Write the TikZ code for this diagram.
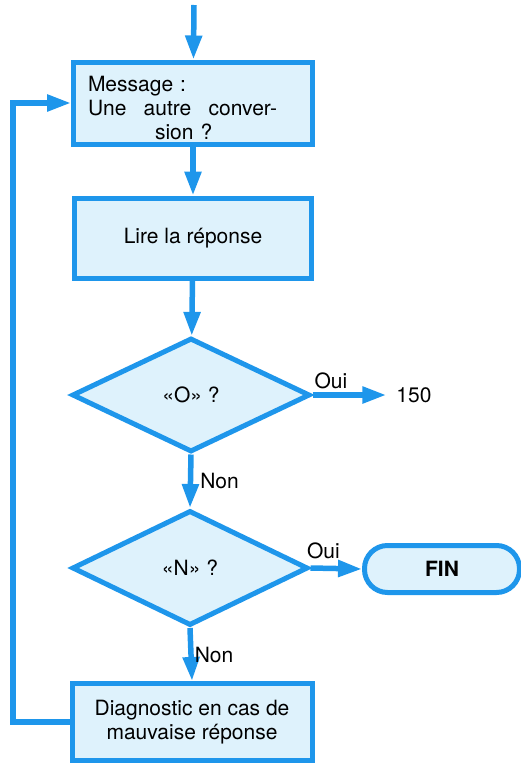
\documentclass[tikz,border=0pt]{standalone}
\usepackage{fontspec}
\setmainfont{TeX Gyre Heros}
\usetikzlibrary{arrows.meta, shapes.geometric}

\definecolor{flowline}{RGB}{30,150,235}
\definecolor{flowfill}{RGB}{222,242,252}

\tikzset{
  box/.style={draw=flowline, fill=flowfill, line width=5pt, rectangle, inner sep=0pt, align=center},
  test/.style={draw=flowline, fill=flowfill, line width=5pt, diamond, inner sep=0pt},
  flow/.style={draw=flowline, line width=5.5pt, -{Triangle[length=24pt,width=16pt]}},
  answer/.style={inner sep=1pt},
}

\begin{document}
\begin{tikzpicture}[x=1pt, y=-1pt, font=\fontsize{21}{24}\selectfont]
  \useasboundingbox (0,0) rectangle (521,763);

  % boxes and tests
  \node[box, minimum width=239pt, minimum height=82pt, text width=210pt, align=left] (msg) at (193,103)
    {\rule{0pt}{26pt}Message :\\ \makebox[189pt][l]{Une\hfill autre\hfill conver-}\\ \hspace*{67pt}sion ?};
  \node[box, minimum width=237pt, minimum height=80pt] (lire) at (193,238) {Lire la réponse};
  \node[test, minimum width=238pt, minimum height=114pt] (testO) at (191,395) {«O» ?};
  \node[test, minimum width=236pt, minimum height=115pt] (testN) at (190,568) {«N» ?};
  \node[box, minimum width=240pt, minimum height=77pt] (diag) at (192,722)
    {Diagnostic en cas de\\ mauvaise réponse};
  \node[box, rectangle, rounded corners=23pt, minimum width=155pt, minimum height=47pt,
        font=\fontsize{21}{24}\selectfont\bfseries] (fin) at (442,569) {FIN};
  \node[inner xsep=10pt] (ret) at (414,395) {150};

  \coordinate (start) at (194,5);
  \coordinate (loop) at (13,0);

  % connectors
  \draw[flow] (start) -- (msg);
  \draw[flow] (msg) -- (lire);
  \draw[flow] (lire) -- (testO);
  \draw[flow] (testO.south) -- (testN.north) node[answer, pos=0.5, right=6pt] {Non};
  \draw[flow] (testN.south) -- (diag.north) node[answer, pos=0.5, right] {Non};
  \draw[flow] (testO.east) -- (ret.west) node[answer, pos=0.25, above=2pt] {Oui};
  \draw[flow] (testN.east) -- (fin.west) node[answer, pos=0.25, above=6pt] {Oui};
  \draw[flow] (diag.west) -- (diag.west -| loop) |- (msg.west);
\end{tikzpicture}
\end{document}
